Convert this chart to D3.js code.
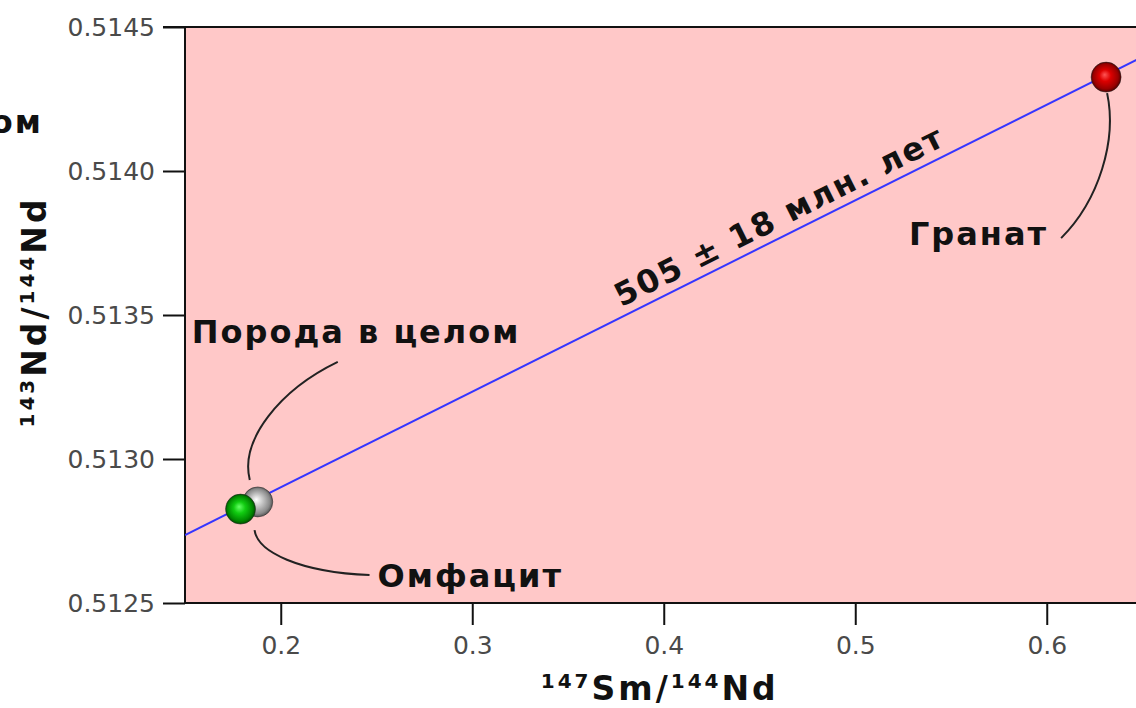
<!DOCTYPE html>
<html>
<head>
<meta charset="utf-8">
<script src="https://cdn.jsdelivr.net/npm/d3@7"></script>
<style>
  body { margin: 0; background: #fff; }
  text { font-family: "DejaVu Sans", Verdana, sans-serif; }
</style>
</head>
<body>
<div id="chart"></div>
<script>
// data
const sampleNames = ["Порода в целом", "Омфацит", "Гранат"];
const smNd = [0.188, 0.179, 0.631];          // 147Sm/144Nd
const ndNd = [0.512851, 0.512826, 0.514326]; // 143Nd/144Nd
const sampleColors = ["gray", "green", "red"];
const isoX = [0.15, 0.65];
const isoY = [0.512736, 0.514396];
const ageLabel = "505 ± 18 млн. лет";
const xTicks = [0.2, 0.3, 0.4, 0.5, 0.6];
const yTicks = [0.5125, 0.5130, 0.5135, 0.5140, 0.5145];

const W = 1136, H = 708;
const pLeft = 185, pTop = 27, pBottom = 603, pRight = 1142.5;

var x = d3.scaleLinear().domain([0.15, 0.65]).range([pLeft, pRight]);
var y = d3.scaleLinear().domain([0.5125, 0.5145]).range([pBottom, pTop]);

var svg = d3.select("#chart").append("svg")
    .attr("width", W)
    .attr("height", H);

var defs = svg.append("defs");
defs.append("clipPath").attr("id", "plotclip")
    .append("rect")
    .attr("x", pLeft).attr("y", pTop)
    .attr("width", pRight - pLeft).attr("height", pBottom - pTop);

// sphere shading
const grads = {
    gray: ["#ffffff", "#c8c8c8", "#8a8a8a", "#3a3a3a"],
    green: ["#66ff66", "#11cc11", "#008800", "#003300"],
    red: ["#ff5555", "#dd0000", "#990000", "#330000"]
};
Object.keys(grads).forEach(k => {
    var g = defs.append("radialGradient").attr("id", "ball-" + k)
        .attr("cx", "50%").attr("cy", "50%").attr("r", "55%")
        .attr("fx", "45%").attr("fy", "42%");
    [0, 0.35, 0.75, 1].forEach((o, i) => {
        g.append("stop").attr("offset", o).attr("stop-color", grads[k][i]);
    });
});

// plot background
svg.append("rect")
    .attr("x", pLeft).attr("y", pTop)
    .attr("width", pRight - pLeft).attr("height", pBottom - pTop)
    .attr("fill", "#ffc8c8");

// axes
var yAxis = d3.axisLeft(y).tickValues(yTicks).tickFormat(d3.format(".4f"))
    .tickSize(22).tickSizeOuter(0).tickPadding(8);
var xAxis = d3.axisBottom(x).tickValues(xTicks).tickFormat(d3.format(".1f"))
    .tickSize(22).tickSizeOuter(0).tickPadding(11);

var gy = svg.append("g").attr("transform", `translate(${pLeft},0)`).call(yAxis);
var gx = svg.append("g").attr("transform", `translate(0,${pBottom})`).call(xAxis);
[gx, gy].forEach(g => {
    g.select(".domain").remove();
    g.selectAll(".tick line").attr("stroke", "#111").attr("stroke-width", 2);
    g.selectAll(".tick text")
        .attr("fill", "#4a4a4a")
        .style("font-size", "25px")
        .style("font-family", "'DejaVu Sans', Verdana, sans-serif");
});

// frame lines
svg.append("line").attr("x1", pLeft).attr("x2", pLeft).attr("y1", pTop - 1).attr("y2", pBottom + 1)
    .attr("stroke", "#111").attr("stroke-width", 2);
svg.append("line").attr("x1", pLeft).attr("x2", W).attr("y1", pBottom).attr("y2", pBottom)
    .attr("stroke", "#111").attr("stroke-width", 2);
svg.append("line").attr("x1", pLeft - 22).attr("x2", W).attr("y1", pTop).attr("y2", pTop)
    .attr("stroke", "#111").attr("stroke-width", 2);

// isochron
svg.append("line")
    .attr("clip-path", "url(#plotclip)")
    .attr("x1", x(isoX[0])).attr("y1", y(isoY[0]))
    .attr("x2", x(isoX[1])).attr("y2", y(isoY[1]))
    .attr("stroke", "#3535ff").attr("stroke-width", 2);

// age label along the line
var angle = Math.atan2(y(isoY[1]) - y(isoY[0]), x(isoX[1]) - x(isoX[0])) * 180 / Math.PI;
var midX = 0.465;
var midY = isoY[0] + (midX - isoX[0]) * (isoY[1] - isoY[0]) / (isoX[1] - isoX[0]);
svg.append("text")
    .attr("transform", `translate(${x(midX)},${y(midY)}) rotate(${angle})`)
    .attr("y", -9)
    .attr("text-anchor", "middle")
    .style("font-size", "32px").style("font-weight", "bold")
    .style("letter-spacing", "2px")
    .attr("fill", "#111")
    .text(ageLabel);

// samples
var pts = sampleNames.map((n, i) => ({ name: n, px: x(smNd[i]), py: y(ndNd[i]), c: sampleColors[i] }));

svg.selectAll("circle.ball")
    .data(pts)
    .enter().append("circle")
    .attr("class", "ball")
    .attr("cx", d => d.px)
    .attr("cy", d => d.py)
    .attr("r", 15)
    .attr("fill", d => `url(#ball-${d.c})`)
    .attr("stroke", "#222").attr("stroke-opacity", 0.5).attr("stroke-width", 1);

// callouts: text offset from the ball, anchor, curve offsets
const callouts = [
    { dx: -66, dy: -159, anchor: "start", path: [[80, -140], [22, -112], [-18, -62], [-8, -22]] },
    { dx: 137, dy: 78, anchor: "start", path: [[14, 21], [17, 43], [59, 63], [129, 66]] },
    { dx: -58, dy: 168, anchor: "end", path: [[1, 16], [11, 63], [-7, 123], [-45, 161]] }
];

pts.forEach((p, i) => {
    var c = callouts[i];
    var q = c.path.map(o => [p.px + o[0], p.py + o[1]]);
    svg.append("path")
        .attr("d", `M${q[0]}C${q[1]} ${q[2]} ${q[3]}`)
        .attr("fill", "none")
        .attr("stroke", "#222")
        .attr("stroke-width", 2);
    svg.append("text")
        .attr("x", p.px + c.dx)
        .attr("y", p.py + c.dy)
        .attr("text-anchor", c.anchor)
        .style("font-size", "32px").style("font-weight", "bold")
        .style("letter-spacing", "2px")
        .attr("fill", "#111")
        .text(p.name);
});

// axis titles
var xt = svg.append("text")
    .attr("x", (pLeft + pRight) / 2 - 4).attr("y", 700)
    .attr("text-anchor", "middle")
    .style("font-size", "33px").style("font-weight", "bold")
    .style("letter-spacing", "3px").attr("fill", "#111");
xt.append("tspan").attr("dy", -12).style("font-size", "20px").text("147");
xt.append("tspan").attr("dy", 12).text("Sm/");
xt.append("tspan").attr("dy", -12).style("font-size", "20px").text("144");
xt.append("tspan").attr("dy", 12).text("Nd");

var yt = svg.append("text")
    .attr("transform", `translate(46,${(pTop + pBottom) / 2 - 3}) rotate(-90)`)
    .attr("text-anchor", "middle")
    .style("font-size", "33px").style("font-weight", "bold")
    .style("letter-spacing", "3px").attr("fill", "#111");
yt.append("tspan").attr("dy", -12).style("font-size", "20px").text("143");
yt.append("tspan").attr("dy", 12).text("Nd/");
yt.append("tspan").attr("dy", -12).style("font-size", "20px").text("144");
yt.append("tspan").attr("dy", 12).text("Nd");

// cut-off text fragment at the top left
svg.append("text")
    .attr("x", 43).attr("y", 133)
    .attr("text-anchor", "end")
    .style("font-size", "32px").style("font-weight", "bold")
    .style("letter-spacing", "2px").attr("fill", "#111")
    .text("ом");
</script>
</body>
</html>
